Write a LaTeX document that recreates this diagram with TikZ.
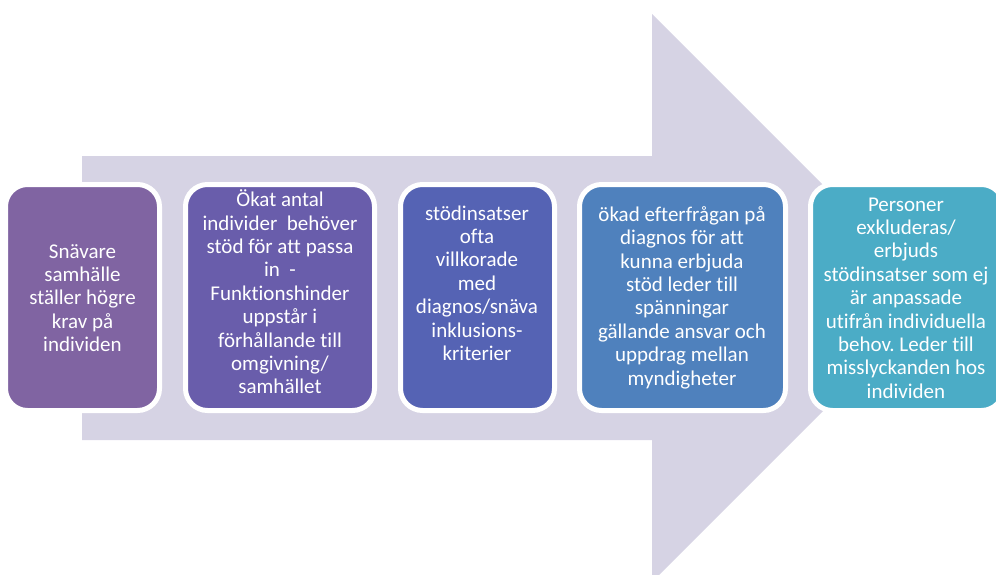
\documentclass[tikz,border=0pt]{standalone}
\usepackage{fontspec}
\setmainfont{Carlito}[Ligatures={NoCommon}]
\frenchspacing
\definecolor{arrowgray}{RGB}{214,211,228}
\definecolor{cA}{HTML}{8064A2}
\definecolor{cB}{HTML}{695DAB}
\definecolor{cC}{HTML}{5563B4}
\definecolor{cD}{HTML}{4F81BD}
\definecolor{cE}{HTML}{4BACC6}
\tikzset{
  stagebox/.style={draw=white, line width=5pt, rounded corners=22pt, inner sep=0pt,
    minimum height=226pt},
  stagetext/.style={text=white, align=center, inner sep=0pt,
    font=\fontsize{21pt}{23.4pt}\selectfont},
}
\begin{document}
\begin{tikzpicture}[x=1pt,y=-1pt]
\useasboundingbox (0,0) rectangle (996,574);
% big background arrow
\fill[arrowgray] (82,156) -- (652,156) -- (652,14) -- (936,298) -- (652,582)
  -- (652,440) -- (82,440) -- cycle;
% boxes
\node[stagebox, fill=cA, minimum width=154pt] (b1) at (82.5,297.5) {};
\node[stagebox, fill=cB, minimum width=189pt] (b2) at (280,297.5) {};
\node[stagebox, fill=cC, minimum width=154pt] (b3) at (477.5,297.5) {};
\node[stagebox, fill=cD, minimum width=206pt] (b4) at (682.5,297.5) {};
\node[stagebox, fill=cE, minimum width=193pt] (b5) at (907,297.5) {};
% texts
\node[stagetext] (t1) at (82.5,298) {Snävare\\samhälle\\ställer högre\\krav på\\individen};
\node[stagetext] (t2) at (280,292) {Ökat antal\\individer~ behöver\\stöd för att passa\\in~ -\\Funktionshinder\\uppstår i\\förhållande till\\omgivning/\\samhället};
\node[stagetext] (t3) at (477,283) {stödinsatser\\ofta\\villkorade\\med\\diagnos/snäva\\inklusions-\\kriterier};
\node[stagetext] (t4) at (682,297.5) {ökad efterfrågan på\\diagnos för att\\kunna erbjuda\\stöd leder till\\spänningar\\gällande ansvar och\\uppdrag mellan\\myndigheter};
\node[stagetext] (t5) at (906,298) {Personer\\exkluderas/\\erbjuds\\stödinsatser som ej\\är anpassade\\utifrån individuella\\behov. Leder till\\misslyckanden hos\\individen};
\end{tikzpicture}
\end{document}
